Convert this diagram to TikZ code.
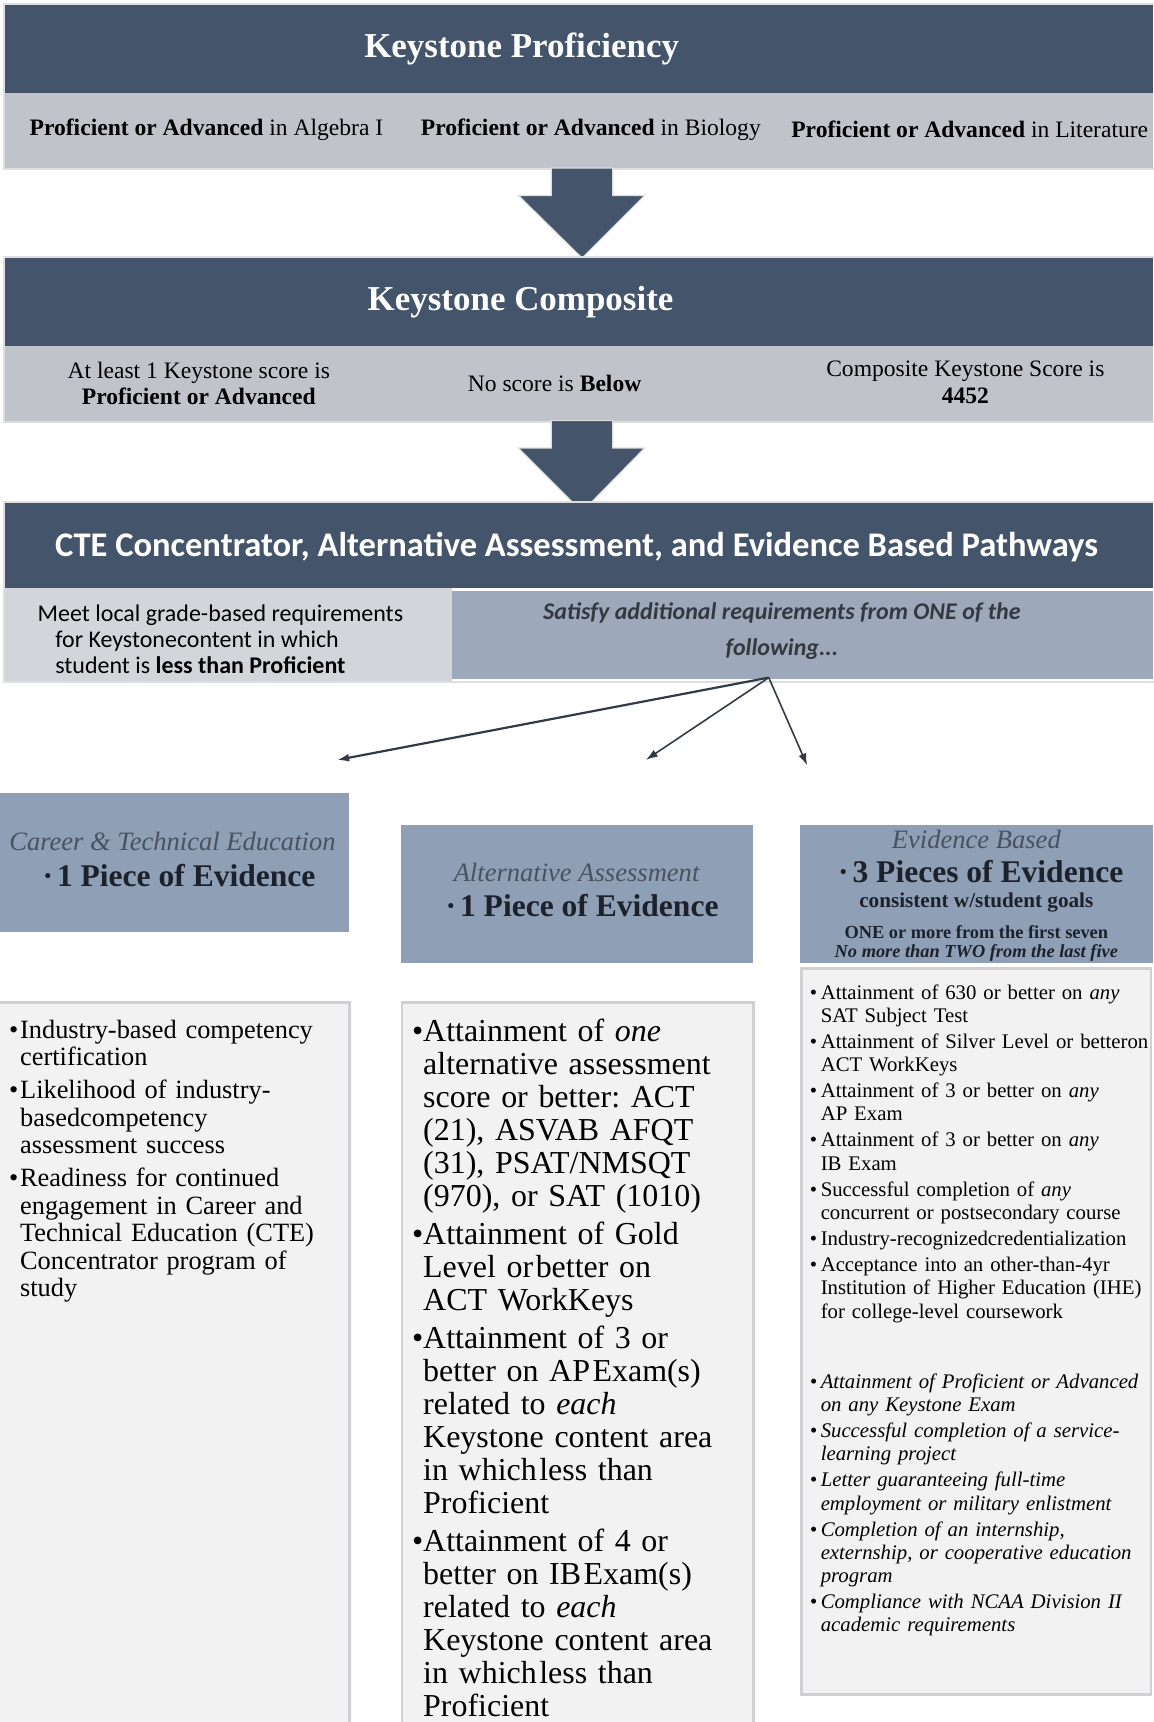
\documentclass[tikz,border=0pt]{standalone}
\usepackage{fontspec}
\setmainfont{Liberation Serif}
\newfontfamily\calibfont{Carlito}
\usetikzlibrary{arrows.meta}
\frenchspacing

\definecolor{hdark}{RGB}{68,84,106}
\definecolor{hlight}{RGB}{192,196,202}
\definecolor{ctelight}{RGB}{211,213,218}
\definecolor{satblue}{RGB}{157,169,186}
\definecolor{evblue}{RGB}{142,159,182}
\definecolor{listbg}{RGB}{242,242,242}
\definecolor{listedge}{RGB}{208,208,212}
\definecolor{bandedge}{RGB}{222,222,224}
\definecolor{evgrey}{RGB}{74,82,96}
\definecolor{evdark}{RGB}{28,33,44}
\definecolor{linkc}{RGB}{50,58,72}

\newlength\bulw
\newcommand{\bitem}{\par\hangindent=\bulw\hangafter=1\noindent\hbox to\bulw{\textbullet\hss}}
\newcommand{\nl}{\hfil\break}

\begin{document}
\begin{tikzpicture}[x=0.55pt,y=-0.55pt,
  hdtitle/.style={text=white,font=\fontsize{17.5}{20}\selectfont\bfseries},
  bandtxt/.style={align=center,font=\fontsize{11.8}{13.2}\selectfont},
  evhead/.style={text=evgrey,font=\fontsize{13.3}{15}\selectfont\itshape},
  evbig/.style={text=evdark,font=\fontsize{15.8}{18}\selectfont\bfseries},
  evsmall/.style={text=evdark,font=\fontsize{9.2}{11}\selectfont\bfseries},
  listtxt/.style={anchor=north west,inner sep=0pt,align=left,text width=180pt},
  link/.style={linkc,line width=0.8pt,-{Latex[length=6pt,width=4pt]}}]
  \useasboundingbox (0,0) rectangle (1050,1568);

  % keystone proficiency
  \fill[hdark] (5,5) rectangle (1050,85);
  \fill[hlight] (5,85) rectangle (1050,153);
  \draw[bandedge,line width=1pt] (4,4) rectangle (1052,154);
  \node[hdtitle] (kptitle) at (475,45) {Keystone Proficiency};
  \node[bandtxt] (kpalg) at (188,118) {\textbf{Proficient or Advanced} in Algebra I};
  \node[bandtxt] (kpbio) at (538,118) {\textbf{Proficient or Advanced} in Biology};
  \node[bandtxt] (kplit) at (883,118) {\textbf{Proficient or Advanced} in Literature};

  \draw[fill=hdark,draw=bandedge,line width=0.6pt] (502,153) -- (558,153) -- (558,178) -- (587,178)
    -- (530,235) -- (472,178) -- (502,178) -- cycle;

  % keystone composite
  \fill[hdark] (5,235) rectangle (1050,315);
  \fill[hlight] (5,315) rectangle (1050,383);
  \draw[bandedge,line width=1pt] (4,234) rectangle (1052,384);
  \node[hdtitle] (kctitle) at (474,275) {Keystone Composite};
  \node[bandtxt] (kcone) at (181,349) {At least 1 Keystone score is\\\textbf{Proficient or Advanced}};
  \node[bandtxt] (kcbelow) at (505,349) {No score is \textbf{Below}};
  \node[bandtxt] (kcscore) at (879,348) {Composite Keystone Score is\\\textbf{4452}};

  \draw[fill=hdark,draw=bandedge,line width=0.6pt] (502,383) -- (558,383) -- (558,408) -- (587,408)
    -- (530,466) -- (472,408) -- (502,408) -- cycle;

  % pathways
  \fill[hdark] (5,458) rectangle (1050,535);
  \fill[ctelight] (5,535) rectangle (412,620);
  \fill[satblue] (412,538) rectangle (1050,618);
  \draw[bandedge,line width=1pt] (4,457) rectangle (1052,621);
  \node[text=white,font=\calibfont\fontsize{17.3}{20}\selectfont\bfseries] (pwtitle) at (525,498)
    {CTE Concentrator, Alternative Assessment, and Evidence Based Pathways};
  \node[anchor=west,inner sep=0pt,align=left,font=\calibfont\fontsize{12}{13.2}\selectfont] (pwlocal) at (34,582)
    {Meet local grade-based requirements\\\hspace*{8.8pt}for Keystonecontent in which\\\hspace*{8.8pt}student is \textbf{less than Proficient}};
  \node[align=center,text={rgb,255:red,52;green,56;blue,64},font=\calibfont\fontsize{12}{18}\selectfont\bfseries\itshape] (pwsat) at (712,575)
    {Satisfy additional requirements from ONE of the\\following...};

  \coordinate (fork) at (700,617);
  \coordinate (ctein) at (307,692);
  \coordinate (altin) at (588,692);
  \coordinate (evin) at (735,697);
  \draw[link,line width=1.1pt] (fork) -- (ctein);
  \draw[link] (fork) -- (altin);
  \draw[link] (fork) -- (evin);

  % evidence boxes
  \fill[evblue] (0,722) rectangle (318,849);
  \fill[evblue] (365,751) rectangle (686,877);
  \fill[evblue] (728,751) rectangle (1050,877);
  \node[evhead] (ctehead) at (157,766) {Career \& Technical Education};
  \node[evbig] (cteev) at (163,797) {·\hspace{2pt}1 Piece of Evidence};
  \node[evhead] (althead) at (525,794) {Alternative Assessment};
  \node[evbig] (altev) at (530,825) {·\hspace{2pt}1 Piece of Evidence};
  \node[evhead] (evhd) at (889,764) {Evidence Based};
  \node[evbig] (evev) at (893,794) {·\hspace{2pt}3 Pieces of Evidence};
  \node[evsmall,font=\fontsize{10.6}{12}\selectfont\bfseries] (evgoal) at (889,822) {consistent w/student goals};
  \node[evsmall] (evfirst) at (889,849) {ONE or more from the first seven};
  \node[evsmall,font=\fontsize{9.2}{11}\selectfont\bfseries\itshape] (evlast) at (889,868) {No more than TWO from the last five};

  % lists
  \draw[fill=listbg,draw=listedge,line width=1.3pt] (-5,913) rectangle (318,1580);
  \draw[fill=listbg,draw=listedge,line width=1.3pt] (366,913) rectangle (686,1580);
  \draw[fill=listbg,draw=listedge,line width=1.3pt] (730,882) rectangle (1048,1543);

  \node[listtxt,font=\fontsize{13.2}{13.8}\selectfont] (ctelist) at (8,915) {%
    \setlength\bulw{5.5pt}\setlength\parskip{2.7pt}%
    \bitem Industry-based competency\nl certification
    \bitem Likelihood of industry-\nl basedcompetency\nl assessment success
    \bitem Readiness for continued\nl engagement in Career and\nl Technical Education (CTE)\nl Concentrator program of\nl study\par};

  \node[listtxt,font=\fontsize{16}{16.5}\selectfont] (altlist) at (375,913) {%
    \setlength\bulw{5.5pt}\setlength\parskip{2.7pt}%
    \bitem Attainment of \textit{one}\nl alternative assessment\nl score or better: ACT\nl (21), ASVAB AFQT\nl (31), PSAT/NMSQT\nl (970), or SAT (1010)
    \bitem Attainment of Gold\nl Level or\hspace{0.08em}better on\nl ACT WorkKeys
    \bitem Attainment of 3 or\nl better on AP\hspace{0.08em}Exam(s)\nl related to \textit{each}\nl Keystone content area\nl in which\hspace{0.08em}less than\nl Proficient
    \bitem Attainment of 4 or\nl better on IB\hspace{0.08em}Exam(s)\nl related to \textit{each}\nl Keystone content area\nl in which\hspace{0.08em}less than\nl Proficient\par};

  \node[listtxt,font=\fontsize{10.4}{11.6}\selectfont] (evlist) at (737,885.5) {%
    \setlength\bulw{5.5pt}\setlength\parskip{1.5pt}%
    \bitem Attainment of 630 or better on \textit{any}\nl SAT Subject Test
    \bitem Attainment of Silver Level or betteron\nl ACT WorkKeys
    \bitem Attainment of 3 or better on \textit{any}\nl AP Exam
    \bitem Attainment of 3 or better on \textit{any}\nl IB Exam
    \bitem Successful completion of \textit{any}\nl concurrent or postsecondary course
    \bitem Industry-recognizedcredentialization
    \bitem Acceptance into an other-than-4yr\nl Institution of Higher Education (IHE)\nl for college-level coursework
    \par\vspace{22pt}\itshape
    \bitem Attainment of Proficient or Advanced\nl on any Keystone Exam
    \bitem Successful completion of a service-\nl learning project
    \bitem Letter guaranteeing full-time\nl employment or military enlistment
    \bitem Completion of an internship,\nl externship, or cooperative education\nl program
    \bitem Compliance with NCAA Division II\nl academic requirements\par};
\end{tikzpicture}
\end{document}
